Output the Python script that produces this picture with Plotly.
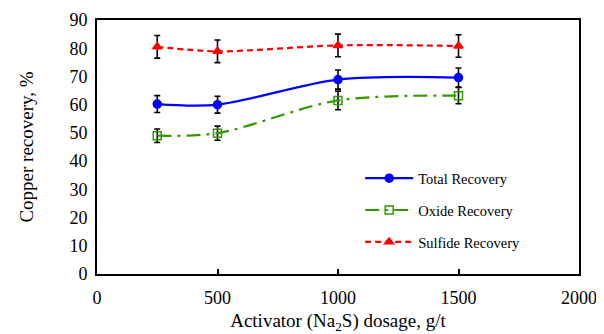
import plotly.graph_objects as go

dosage = [250, 500, 1000, 1500]
total = [60.2, 60.0, 68.9, 69.6]
total_err = [3.0, 3.0, 3.4, 3.4]
oxide = [49.0, 49.9, 61.5, 63.2]
oxide_err = [2.4, 2.5, 3.3, 2.9]
sulfide = [80.5, 78.9, 81.0, 80.8]
sulfide_err = [4.0, 4.0, 4.0, 4.0]

font_family = "Liberation Serif, Times New Roman, serif"

fig = go.Figure()

def add(name, y, err, color, dash, symbol, group):
    fig.add_trace(go.Scatter(
        x=dosage, y=y, name=name, mode="lines+markers",
        line=dict(color=color, width=2.2, dash=dash, shape="spline", smoothing=0.9),
        marker=dict(symbol=symbol, size=8, color=color, line=dict(color=color, width=1.5)),
        error_y=dict(type="data", array=err, color="black", thickness=1.6, width=3),
        legendgroup=group,
    ))

add("Total Recovery", total, total_err, "#0000FF", "solid", "circle", "a")
add("Oxide Recovery", oxide, oxide_err, "#339900", "14px,6px,3px,6px", "square-open", "b")
add("Sulfide Recovery", sulfide, sulfide_err, "#FF0000", "6px,4px", "triangle-up", "c")

# page body has an 8px margin, so the figure is sized to fit the 604x334 window
fig.update_layout(
    width=596, height=326,
    margin=dict(l=89, r=25, t=12, b=60, autoexpand=False),
    paper_bgcolor="white", plot_bgcolor="white",
    font=dict(family=font_family, color="black", size=18),
    legend=dict(x=0.546, y=0.44, xanchor="left", yanchor="top",
                bgcolor="rgba(0,0,0,0)", font=dict(size=14.5, family=font_family),
                tracegroupgap=10, itemwidth=48),
    showlegend=True,
)
fig.update_xaxes(
    range=[0, 2000], tickvals=[0, 500, 1000, 1500, 2000],
    showgrid=False, zeroline=False, automargin=False,
    showline=True, linecolor="black", linewidth=2, mirror=True,
    ticks="inside", ticklen=5, tickwidth=2, tickcolor="black",
    tickfont=dict(size=18), ticklabelstandoff=6,
    title=dict(text="Activator (Na<sub>2</sub>S) dosage, g/t", font=dict(size=19), standoff=7),
)
fig.update_yaxes(
    range=[0, 90], tickvals=list(range(0, 91, 10)),
    showgrid=False, zeroline=False, automargin=False,
    showline=True, linecolor="black", linewidth=2, mirror=True,
    ticks="", tickfont=dict(size=18), ticklabelstandoff=4,
    title=dict(text="Copper recovery, %", font=dict(size=19), standoff=31),
)

fig.write_html("out.html")
